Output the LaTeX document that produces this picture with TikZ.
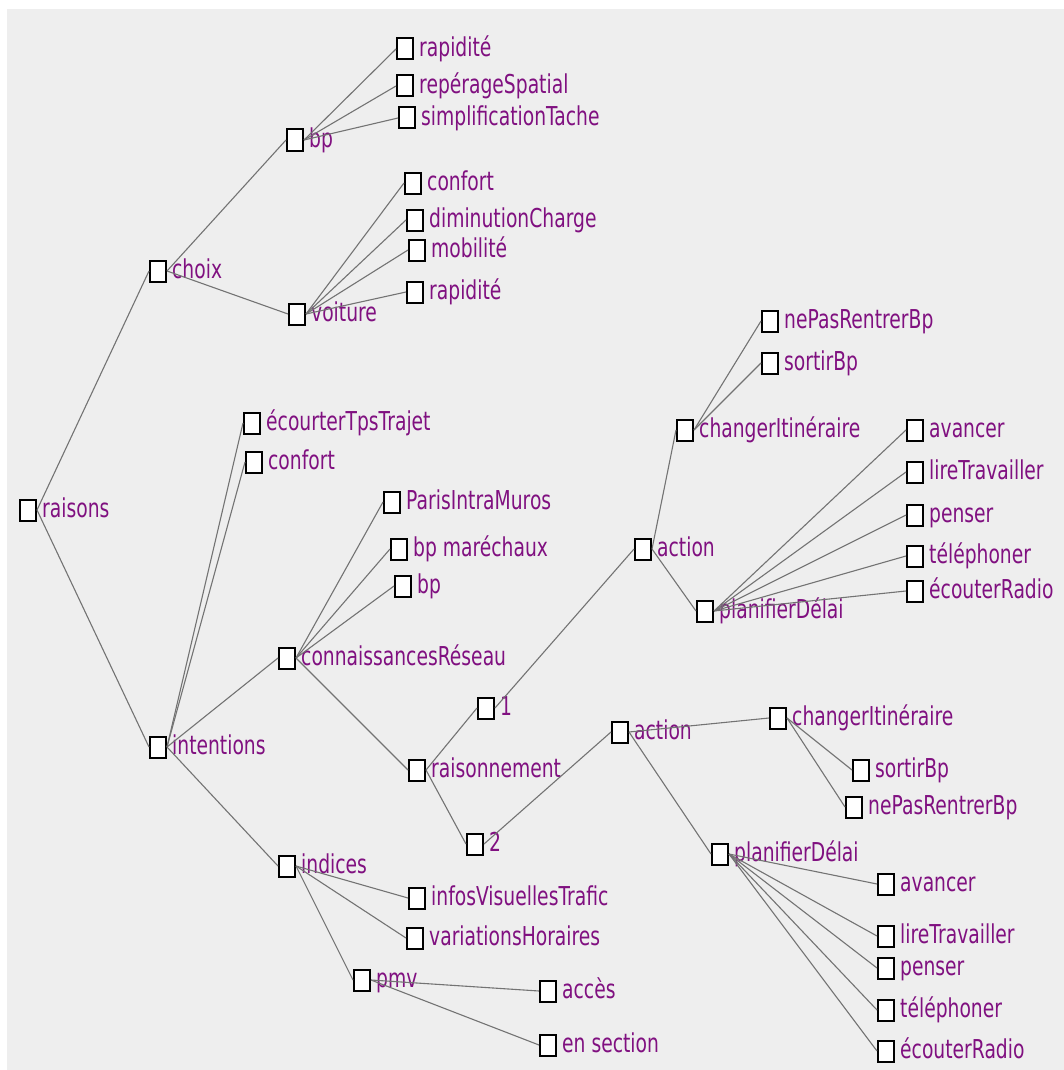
\documentclass[tikz,border=0pt]{standalone}
\usepackage{fontspec}
\usepackage{tikz}
\newfontfamily\treefont[FakeStretch=0.72]{DejaVu Sans}
\definecolor{panelgray}{RGB}{238,238,238}
\definecolor{labelpurple}{RGB}{128,16,128}
\definecolor{edgegray}{RGB}{115,115,115}
\tikzset{
  treebox/.style={
    rectangle, draw=black, line width=2pt,
    fill=white, minimum width=16pt, minimum height=21pt, inner sep=0pt
  },
  treetext/.style={
    text=labelpurple, font=\treefont\fontsize{26}{30}\selectfont,
    inner sep=0pt, text height=20pt, text depth=5pt, label distance=5pt
  },
  treeedge/.style={draw=edgegray, line width=1.1pt}
}

\begin{document}
\begin{tikzpicture}[x=1pt, y=-1pt]
  \useasboundingbox (0,0) rectangle (1064,1070);
  \fill[panelgray] (7,9) rectangle (1064,1070);
  %
  % ==================================================================
  % Root and first level
  % ==================================================================
  \node[treebox, label={[treetext]right:raisons}]    (raisons)    at (28,510) {};
  \node[treebox, label={[treetext]right:choix}]      (choix)      at (158,271) {};
  \node[treebox, label={[treetext]right:intentions}] (intentions) at (158,747) {};
  %
  % ==================================================================
  % choix: bp and voiture
  % ==================================================================
  \node[treebox, label={[treetext]right:bp}]      (choixbp) at (295,140) {};
  \node[treebox, label={[treetext]right:voiture}] (voiture) at (297,314) {};
  \node[treebox, label={[treetext]right:rapidité}]            (bprapidite)  at (405,49) {};
  \node[treebox, label={[treetext]right:repérageSpatial}]     (bpreperage)  at (405,86) {};
  \node[treebox, label={[treetext]right:simplificationTache}] (bpsimplif)   at (407,118) {};
  \node[treebox, label={[treetext]right:confort}]          (vconfort)    at (413,183) {};
  \node[treebox, label={[treetext]right:diminutionCharge}] (vdiminution) at (415,220) {};
  \node[treebox, label={[treetext]right:mobilité}]         (vmobilite)   at (417,250) {};
  \node[treebox, label={[treetext]right:rapidité}]         (vrapidite)   at (415,292) {};
  %
  % ==================================================================
  % intentions: direct leaves, connaissancesRéseau, indices
  % ==================================================================
  \node[treebox, label={[treetext]right:écourterTpsTrajet}]   (iecourter)     at (252,423) {};
  \node[treebox, label={[treetext]right:confort}]             (iconfort)      at (254,462) {};
  \node[treebox, label={[treetext]right:connaissancesRéseau}] (connaissances) at (287,658) {};
  \node[treebox, label={[treetext]right:indices}]             (indices)       at (287,866) {};
  \node[treebox, label={[treetext]right:ParisIntraMuros}] (cparis)     at (392,502) {};
  \node[treebox, label={[treetext]right:bp maréchaux}]    (cmarechaux) at (399,549) {};
  \node[treebox, label={[treetext]right:bp}]              (cbp)        at (403,586) {};
  \node[treebox, label={[treetext]right:raisonnement}]    (raisonnement) at (417,770) {};
  \node[treebox, label={[treetext]right:1}] (rone) at (486,708) {};
  \node[treebox, label={[treetext]right:2}] (rtwo) at (475,844) {};
  %
  % ==================================================================
  % branch 1: action (upper)
  % ==================================================================
  \node[treebox, label={[treetext]right:action}]            (uaction)    at (643,549) {};
  \node[treebox, label={[treetext]right:changerItinéraire}] (uchanger)   at (685,430) {};
  \node[treebox, label={[treetext]right:planifierDélai}]    (uplanifier) at (705,611) {};
  \node[treebox, label={[treetext]right:nePasRentrerBp}] (unepas)  at (770,321) {};
  \node[treebox, label={[treetext]right:sortirBp}]       (usortir) at (770,363) {};
  \node[treebox, label={[treetext]right:avancer}]        (uavancer)    at (915,430) {};
  \node[treebox, label={[treetext]right:lireTravailler}] (ulire)       at (915,472) {};
  \node[treebox, label={[treetext]right:penser}]         (upenser)     at (915,515) {};
  \node[treebox, label={[treetext]right:téléphoner}]     (utelephoner) at (915,556) {};
  \node[treebox, label={[treetext]right:écouterRadio}]   (uecouter)    at (915,591) {};
  %
  % ==================================================================
  % branch 2: action (lower)
  % ==================================================================
  \node[treebox, label={[treetext]right:action}]            (laction)    at (620,732) {};
  \node[treebox, label={[treetext]right:changerItinéraire}] (lchanger)   at (778,718) {};
  \node[treebox, label={[treetext]right:planifierDélai}]    (lplanifier) at (720,854) {};
  \node[treebox, label={[treetext]right:sortirBp}]       (lsortir) at (861,770) {};
  \node[treebox, label={[treetext]right:nePasRentrerBp}] (lnepas)  at (854,807) {};
  \node[treebox, label={[treetext]right:avancer}]        (lavancer)    at (886,884) {};
  \node[treebox, label={[treetext]right:lireTravailler}] (llire)       at (886,936) {};
  \node[treebox, label={[treetext]right:penser}]         (lpenser)     at (886,968) {};
  \node[treebox, label={[treetext]right:téléphoner}]     (ltelephoner) at (886,1010) {};
  \node[treebox, label={[treetext]right:écouterRadio}]   (lecouter)    at (886,1051) {};
  %
  % ==================================================================
  % indices
  % ==================================================================
  \node[treebox, label={[treetext]right:infosVisuellesTrafic}] (iinfos)      at (417,898) {};
  \node[treebox, label={[treetext]right:variationsHoraires}]   (ivariations) at (415,938) {};
  \node[treebox, label={[treetext]right:pmv}]                  (pmv)         at (362,980) {};
  \node[treebox, label={[treetext]right:accès}]      (pacces)   at (548,991) {};
  \node[treebox, label={[treetext]right:en section}] (psection) at (548,1045) {};
  %
  % ==================================================================
  % edges (parent east -> child west)
  % ==================================================================
  \draw[treeedge] (raisons.east) -- (choix.west);
  \draw[treeedge] (raisons.east) -- (intentions.west);
  \draw[treeedge] (choix.east) -- (choixbp.west);
  \draw[treeedge] (choix.east) -- (voiture.west);
  \draw[treeedge] (choixbp.east) -- (bprapidite.west);
  \draw[treeedge] (choixbp.east) -- (bpreperage.west);
  \draw[treeedge] (choixbp.east) -- (bpsimplif.west);
  \draw[treeedge] (voiture.east) -- (vconfort.west);
  \draw[treeedge] (voiture.east) -- (vdiminution.west);
  \draw[treeedge] (voiture.east) -- (vmobilite.west);
  \draw[treeedge] (voiture.east) -- (vrapidite.west);
  \draw[treeedge] (intentions.east) -- (iecourter.west);
  \draw[treeedge] (intentions.east) -- (iconfort.west);
  \draw[treeedge] (intentions.east) -- (connaissances.west);
  \draw[treeedge] (intentions.east) -- (indices.west);
  \draw[treeedge] (connaissances.east) -- (cparis.west);
  \draw[treeedge] (connaissances.east) -- (cmarechaux.west);
  \draw[treeedge] (connaissances.east) -- (cbp.west);
  \draw[treeedge] (connaissances.east) -- (raisonnement.west);
  \draw[treeedge] (raisonnement.east) -- (rone.west);
  \draw[treeedge] (raisonnement.east) -- (rtwo.west);
  \draw[treeedge] (rone.east) -- (uaction.west);
  \draw[treeedge] (uaction.east) -- (uchanger.west);
  \draw[treeedge] (uaction.east) -- (uplanifier.west);
  \draw[treeedge] (uchanger.east) -- (unepas.west);
  \draw[treeedge] (uchanger.east) -- (usortir.west);
  \draw[treeedge] (uplanifier.east) -- (uavancer.west);
  \draw[treeedge] (uplanifier.east) -- (ulire.west);
  \draw[treeedge] (uplanifier.east) -- (upenser.west);
  \draw[treeedge] (uplanifier.east) -- (utelephoner.west);
  \draw[treeedge] (uplanifier.east) -- (uecouter.west);
  \draw[treeedge] (rtwo.east) -- (laction.west);
  \draw[treeedge] (laction.east) -- (lchanger.west);
  \draw[treeedge] (laction.east) -- (lplanifier.west);
  \draw[treeedge] (lchanger.east) -- (lsortir.west);
  \draw[treeedge] (lchanger.east) -- (lnepas.west);
  \draw[treeedge] (lplanifier.east) -- (lavancer.west);
  \draw[treeedge] (lplanifier.east) -- (llire.west);
  \draw[treeedge] (lplanifier.east) -- (lpenser.west);
  \draw[treeedge] (lplanifier.east) -- (ltelephoner.west);
  \draw[treeedge] (lplanifier.east) -- (lecouter.west);
  \draw[treeedge] (indices.east) -- (iinfos.west);
  \draw[treeedge] (indices.east) -- (ivariations.west);
  \draw[treeedge] (indices.east) -- (pmv.west);
  \draw[treeedge] (pmv.east) -- (pacces.west);
  \draw[treeedge] (pmv.east) -- (psection.west);
\end{tikzpicture}
\end{document}
